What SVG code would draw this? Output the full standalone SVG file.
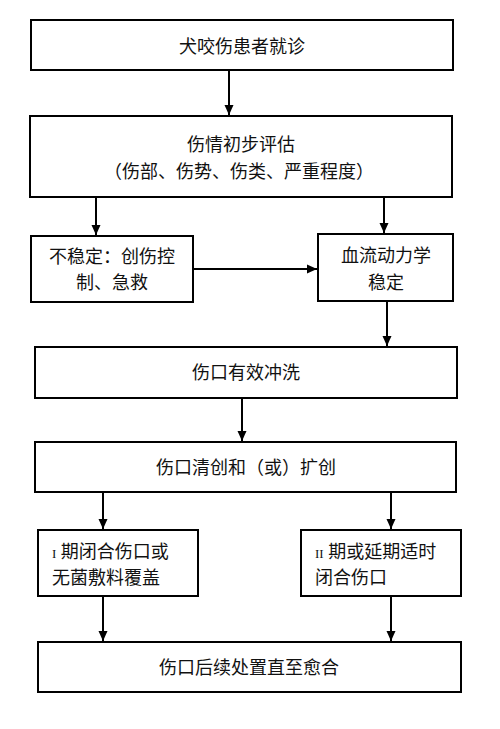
<svg xmlns="http://www.w3.org/2000/svg" width="500" height="729" viewBox="0 0 500 729">
<defs>
<marker id="ah" markerUnits="userSpaceOnUse" markerWidth="10" markerHeight="10" viewBox="0 0 10 10" refX="10" refY="5" orient="auto">
<path d="M0,0.5 L10,5 L0,9.5 Z" fill="#000"/>
</marker>
<style>
.box{fill:#fff;stroke:#000;stroke-width:2}
.t{font-family:"Liberation Serif","Noto Sans CJK SC",serif;font-size:18px;fill:#111}
.c{text-anchor:middle}
.conn line{stroke:#000;stroke-width:2;marker-end:url(#ah)}
</style>
</defs>
<rect width="500" height="729" fill="#fff"/>
<g id="n1"><rect class="box" x="31" y="20" width="422" height="50"/><text class="t c" x="242" y="53">犬咬伤患者就诊</text></g>
<g id="n2"><rect class="box" x="30" y="116" width="422" height="81"/><text class="t c" x="241" y="151">伤情初步评估</text><text class="t c" x="239" y="178">（伤部、伤势、伤类、严重程度）</text></g>
<g id="n3"><rect class="box" x="31" y="236" width="162" height="66"/><text class="t c" x="112" y="263">不稳定：创伤控</text><text class="t c" x="112" y="289">制、急救</text></g>
<g id="n4"><rect class="box" x="318" y="234" width="135" height="67"/><text class="t c" x="386" y="262">血流动力学</text><text class="t c" x="386" y="289">稳定</text></g>
<g id="n5"><rect class="box" x="35" y="347" width="422" height="51"/><text class="t c" x="246" y="379">伤口有效冲洗</text></g>
<g id="n6"><rect class="box" x="35" y="442" width="421" height="50"/><text class="t c" x="246" y="474">伤口清创和（或）扩创</text></g>
<g id="n7"><rect class="box" x="38" y="530" width="160" height="66"/><text class="t" x="52" y="558"><tspan font-size="13">I</tspan> 期闭合伤口或</text><text class="t" x="52" y="584">无菌敷料覆盖</text></g>
<g id="n8"><rect class="box" x="301" y="530" width="160" height="66"/><text class="t" x="315" y="558"><tspan font-size="13">II</tspan> 期或延期适时</text><text class="t" x="315" y="584">闭合伤口</text></g>
<g id="n9"><rect class="box" x="38" y="642" width="423" height="50"/><text class="t c" x="249" y="674">伤口后续处置直至愈合</text></g>
<g id="connectors" class="conn">
<line x1="229" y1="70" x2="229" y2="115"/>
<line x1="96" y1="197" x2="96" y2="235"/>
<line x1="384" y1="197" x2="384" y2="233"/>
<line x1="193" y1="269" x2="317" y2="269"/>
<line x1="387" y1="301" x2="387" y2="346"/>
<line x1="242" y1="398" x2="242" y2="441"/>
<line x1="103" y1="492" x2="103" y2="529"/>
<line x1="391" y1="492" x2="391" y2="529"/>
<line x1="103" y1="596" x2="103" y2="641"/>
<line x1="391" y1="596" x2="391" y2="641"/>
</g>
</svg>
